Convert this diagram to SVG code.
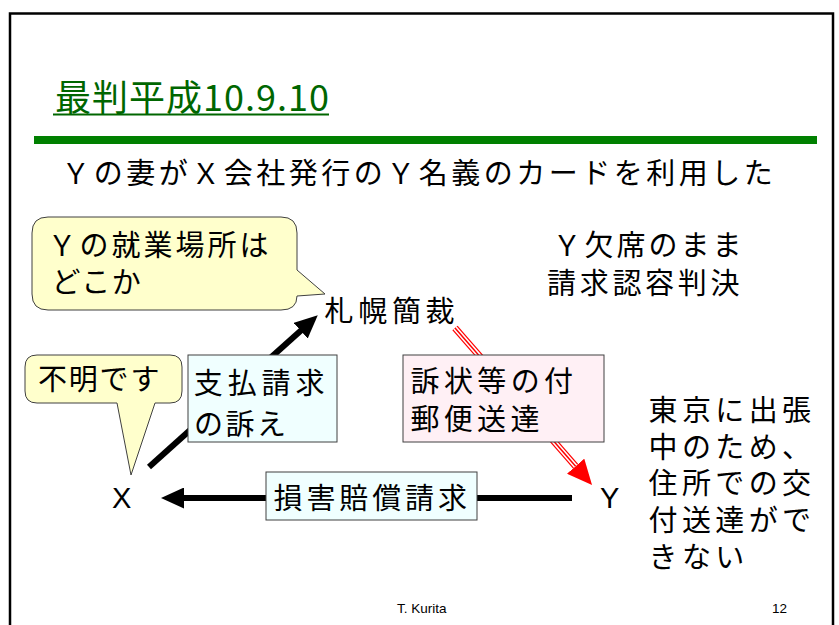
<svg xmlns="http://www.w3.org/2000/svg" width="839" height="625" viewBox="0 0 839 625">
<defs>
<style>
.jp{font-family:"Noto Sans CJK JP","Noto Sans CJK SC",sans-serif;font-size:29px;font-weight:400;fill:#000}
.lat{font-family:"Liberation Sans",Arial,sans-serif;fill:#000}
.callout{fill:#ffffcc;stroke:#404040;stroke-width:1}
.boxc{fill:#f0ffff;stroke:#404040;stroke-width:1}
.boxp{fill:#fff0f5;stroke:#404040;stroke-width:1}
.blk{stroke:#000;stroke-width:6;fill:none}
</style>
<marker id="ah" markerUnits="userSpaceOnUse" markerWidth="23" markerHeight="21" viewBox="0 0 23 21" refX="12" refY="10.5" orient="auto"><path d="M0,0 L23,10.5 L0,21 z" fill="#000"/></marker>
<marker id="ahr" markerUnits="userSpaceOnUse" markerWidth="25" markerHeight="23" viewBox="0 0 25 23" refX="0" refY="11.5" orient="auto"><path d="M0,0 L25,11.5 L0,23 z" fill="#ff0000"/></marker>
</defs>
<rect width="839" height="625" fill="#fff"/>
<rect x="10" y="13.5" width="823" height="700" fill="none" stroke="#000" stroke-width="2.5"/>
<g id="title">
<text class="jp" x="55" y="111" letter-spacing="1" style="fill:#006600;font-size:36px">最判平成10.9.10</text>
<rect x="53" y="113.5" width="276" height="2" fill="#006600"/>
</g>
<rect x="34" y="136" width="783" height="8" fill="#008000"/>
<text class="jp" x="61.2" y="184" letter-spacing="3.5">Ｙの妻がＸ会社発行のＹ名義のカードを利用した</text>
<g id="connectors">
<line x1="149" y1="467" x2="309.6" y2="322.7" class="blk" marker-end="url(#ah)"/>
<line x1="572" y1="498" x2="172" y2="498" class="blk" marker-end="url(#ah)"/>
<line x1="455" y1="328" x2="575.6" y2="466.2" stroke="#ff0000" stroke-width="7" marker-end="url(#ahr)"/>
<line x1="455" y1="328" x2="575.6" y2="466.2" stroke="#ffffff" stroke-width="4.5"/>
<line x1="455" y1="328" x2="575.6" y2="466.2" stroke="#ff0000" stroke-width="1.5"/>
</g>
<g id="callout-shugyo">
<path class="callout" d="M48,217 H281 Q297,217 297,233 V270 L325,294 L297,296 Q297,310 281,310 H48 Q32,310 32,294 V233 Q32,217 48,217 Z"/>
<text class="jp" x="47.5" y="256" letter-spacing="3">Ｙの就業場所は</text>
<text class="jp" x="51.5" y="293" letter-spacing="1.5">どこか</text>
</g>
<g id="callout-fumei">
<path class="callout" d="M37,355 H170 Q182,355 182,367 V391 Q182,403 170,403 H155 L131,475 L117,403 H37 Q25,403 25,391 V367 Q25,355 37,355 Z"/>
<text class="jp" x="38" y="390" letter-spacing="1.8">不明です</text>
</g>
<g id="box-shiharai">
<rect class="boxc" x="188" y="355" width="149" height="87"/>
<text class="jp" x="193.8" y="394" letter-spacing="4.9">支払請求</text>
<text class="jp" x="194" y="435" letter-spacing="2.5">の訴え</text>
</g>
<g id="box-sojo">
<rect class="boxp" x="403" y="355" width="201" height="87"/>
<text class="jp" x="410.5" y="392" letter-spacing="4.4">訴状等の付</text>
<text class="jp" x="410.5" y="430" letter-spacing="4.3">郵便送達</text>
</g>
<g id="box-songai">
<rect class="boxc" x="266" y="472" width="211" height="48"/>
<text class="jp" x="273.5" y="509" letter-spacing="3.9">損害賠償請求</text>
</g>
<g id="node-sapporo">
<text class="jp" x="324.5" y="322" letter-spacing="4.7">札幌簡裁</text>
</g>
<g id="node-x">
<text class="lat" x="112" y="508" font-size="29">X</text>
</g>
<g id="node-y">
<text class="lat" x="600" y="508" font-size="29">Y</text>
</g>
<g id="note-kesseki">
<text class="jp" x="552.5" y="256" letter-spacing="3">Ｙ欠席のまま</text>
<text class="jp" x="547" y="294" letter-spacing="3.7">請求認容判決</text>
</g>
<g id="note-tokyo">
<text class="jp" letter-spacing="4.4"><tspan x="648.5" y="421">東京に出張</tspan><tspan x="648.5" y="457.7">中のため、</tspan><tspan x="648.5" y="494.4">住所での交</tspan><tspan x="648.5" y="531">付送達がで</tspan><tspan x="648.5" y="567.8">きない</tspan></text>
</g>
<g id="footer">
<text class="lat" x="397" y="613" font-size="13.5">T. Kurita</text>
<text class="lat" x="772" y="613" font-size="13.5">12</text>
</g>
</svg>
